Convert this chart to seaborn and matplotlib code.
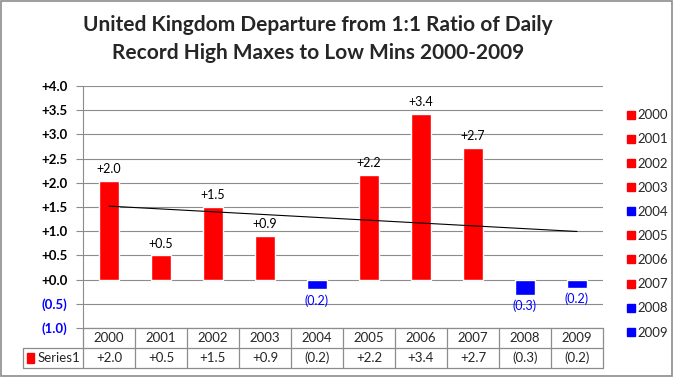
import matplotlib
matplotlib.use("Agg")
import matplotlib.pyplot as plt
import matplotlib.patches as mpatches
from matplotlib.lines import Line2D
import seaborn as sns
import pandas as pd
import numpy as np

years = ['2000', '2001', '2002', '2003', '2004', '2005', '2006', '2007', '2008', '2009']
values = [2.04, 0.50, 1.50, 0.90, -0.20, 2.17, 3.42, 2.72, -0.32, -0.17]
yticks = [-1.0, -0.5, 0.0, 0.5, 1.0, 1.5, 2.0, 2.5, 3.0, 3.5, 4.0]

def fmt(v):
    return f"({abs(v):.1f})" if v < 0 else f"+{v:.1f}"

colors = ['#0000ff' if v < 0 else '#ff0000' for v in values]
df = pd.DataFrame({'year': years, 'value': values})

sns.set_style('white')
plt.rcParams['font.family'] = ['Lato', 'DejaVu Sans']

fig = plt.figure(figsize=(6.75, 3.77), dpi=100)
W, H = 675, 377
ax = fig.add_axes([83 / W, 1 - 328 / H, 520 / W, 242 / H])

sns.barplot(data=df, x='year', y='value', hue='year', palette=colors,
            width=0.38, legend=False, ax=ax, saturation=1)

# linear trend line
xs = np.arange(len(values))
k, b = np.polyfit(xs, values, 1)
ax.plot([xs[0], xs[-1]], [k * xs[0] + b, k * xs[-1] + b], color='black', lw=0.8)

# bar labels
for i, v in enumerate(values):
    if v >= 0:
        ax.text(i, v + 0.12, fmt(v), ha='center', va='bottom', fontsize=9, color='black')
    else:
        ax.text(i, v - 0.1, fmt(v), ha='center', va='top', fontsize=9, color='#0000ff')

ax.set_xlim(-0.5, len(years) - 0.5)
ax.set_ylim(-1.0, 4.0)
ax.set_yticks(yticks)
ax.set_yticklabels([fmt(t) for t in yticks], fontsize=9.5, fontweight='bold')
for lbl, t in zip(ax.get_yticklabels(), yticks):
    lbl.set_color('#0000ff' if t < 0 else 'black')
ax.yaxis.grid(True, color='#8c8c8c', lw=0.8)
ax.set_axisbelow(True)
ax.tick_params(axis='y', length=5, color='#8c8c8c', left=True, pad=6)
ax.set_xticks([])
ax.set_xlabel('')
ax.set_ylabel('')
for s in ['top', 'right', 'bottom']:
    ax.spines[s].set_visible(False)
ax.spines['left'].set_color('#8c8c8c')

# data table under the plot
gc = '#8c8c8c'
rh = 20 / 242
left2 = (23 - 83) / 520
tr = ax.transAxes
n = len(years)
ax.add_line(Line2D([0, 1], [0, 0], transform=tr, color=gc, lw=0.9, clip_on=False))
ax.add_line(Line2D([left2, 1], [-rh, -rh], transform=tr, color=gc, lw=0.9, clip_on=False))
ax.add_line(Line2D([left2, 1], [-2 * rh, -2 * rh], transform=tr, color=gc, lw=0.9, clip_on=False))
ax.add_line(Line2D([left2, left2], [-rh, -2 * rh], transform=tr, color=gc, lw=0.9, clip_on=False))
for j in range(n + 1):
    ax.add_line(Line2D([j / n, j / n], [0, -2 * rh], transform=tr, color=gc, lw=0.9, clip_on=False))
for j, (yr, v) in enumerate(zip(years, values)):
    cx = (j + 0.5) / n
    ax.text(cx, -rh / 2, yr, transform=tr, ha='center', va='center', fontsize=9.5)
    ax.text(cx, -1.5 * rh, fmt(v), transform=tr, ha='center', va='center', fontsize=9.5)
ax.add_patch(mpatches.Rectangle((left2 + 0.008, -1.5 * rh - 0.02), 0.014, 0.04,
                                transform=tr, color='#ff0000', clip_on=False))
ax.text(left2 + 0.027, -1.5 * rh, 'Series1', transform=tr, ha='left', va='center',
        fontsize=9.5)

# legend on the right
handles = [mpatches.Patch(color=c) for c in colors]
fig.legend(handles, years, loc='upper left', bbox_to_anchor=(622 / W, 1 - 104 / H),
           frameon=False, fontsize=9.5, handlelength=0.55, handleheight=0.55,
           handletextpad=0.25, labelspacing=0.92, borderaxespad=0)

fig.suptitle('United Kingdom Departure from 1:1 Ratio of Daily\nRecord High Maxes to Low Mins 2000-2009',
             x=318 / W, y=1 - 15 / H, va='top', fontsize=15, fontweight='bold', linespacing=1.5)

fig.add_artist(mpatches.Rectangle((0.002, 0.003), 0.993, 0.994, transform=fig.transFigure,
                                  fill=False, edgecolor='#8c8c8c', lw=1.2))

fig.savefig('out.png', dpi=100)
